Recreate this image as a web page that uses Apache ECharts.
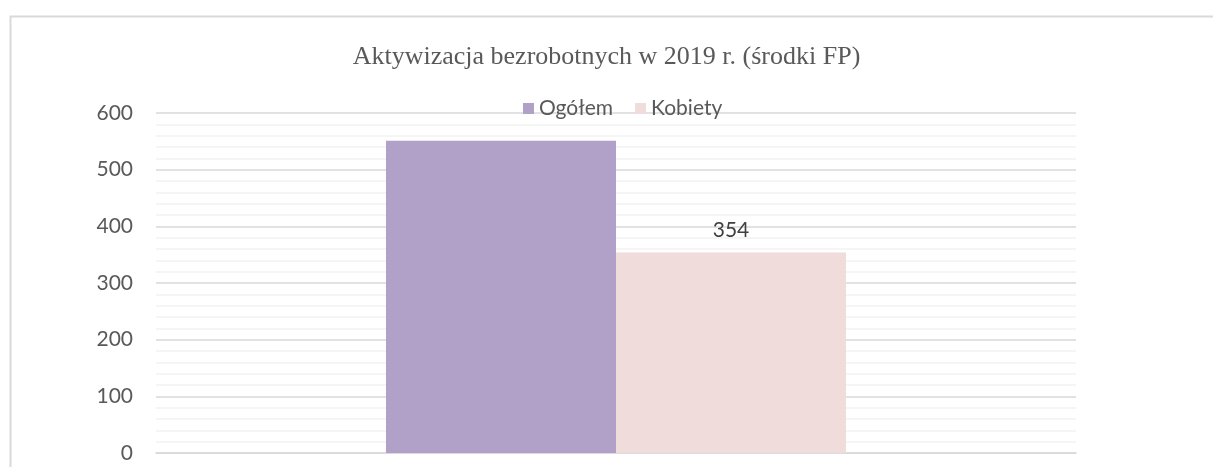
<!DOCTYPE html>
<html><head><meta charset="utf-8">
<script src="https://cdn.jsdelivr.net/npm/echarts@6/dist/echarts.min.js"></script>
<style>html,body{margin:0;padding:0;background:#fff}#c{width:1213px;height:467px}</style>
</head><body><div id="c"></div>
<script>
const title = 'Aktywizacja bezrobotnych w 2019 r. (środki FP)';
const categories = [''];
const seriesNames = ['Ogółem', 'Kobiety'];
const ogolem = [551];
const kobiety = [354];
const yTicks = [0, 100, 200, 300, 400, 500, 600];

const chart = echarts.init(document.getElementById('c'), null, {renderer: 'canvas'});
chart.setOption({
  animation: false,
  backgroundColor: '#fff',
  graphic: [{
    type: 'rect', left: 8, top: 14, z: -1,
    shape: {width: 1240, height: 500},
    style: {fill: 'none', stroke: '#d9d9d9', lineWidth: 2}
  }],
  title: {
    text: title, left: 'center', top: 39,
    textStyle: {fontFamily: 'Liberation Serif', fontSize: 26, fontWeight: 'normal', color: '#595959'}
  },
  legend: {
    top: 93, left: 518, itemWidth: 11, itemHeight: 11, itemGap: 22,
    icon: 'rect',
    textStyle: {fontFamily: 'Lato', fontSize: 21, color: '#595959'},
    data: seriesNames
  },
  grid: {left: 156, right: 137, top: 113, bottom: 14, containLabel: false},
  xAxis: {
    type: 'category', data: categories,
    axisLine: {show: true, lineStyle: {color: '#d9d9d9', width: 1.5}},
    axisTick: {show: false}, axisLabel: {show: false}
  },
  yAxis: {
    type: 'value', min: yTicks[0], max: yTicks[yTicks.length - 1], interval: 100,
    axisLine: {show: false}, axisTick: {show: false},
    axisLabel: {fontFamily: 'Lato', fontSize: 21, color: '#595959', margin: 23},
    splitLine: {lineStyle: {color: '#d9d9d9', width: 1.5}},
    minorTick: {show: false, splitNumber: 5},
    minorSplitLine: {show: true, lineStyle: {color: '#f2f2f2', width: 1.5}}
  },
  series: [{
    name: seriesNames[0], type: 'bar', data: ogolem,
    barGap: '0%', barCategoryGap: '50%',
    itemStyle: {color: '#b1a0c7'}
  }, {
    name: seriesNames[1], type: 'bar', data: kobiety,
    barGap: '0%', barCategoryGap: '50%',
    itemStyle: {color: '#f0dcdb'},
    label: {show: true, position: 'top', distance: 12, fontFamily: 'Lato', fontSize: 21, color: '#404040'}
  }]
});
</script></body></html>
